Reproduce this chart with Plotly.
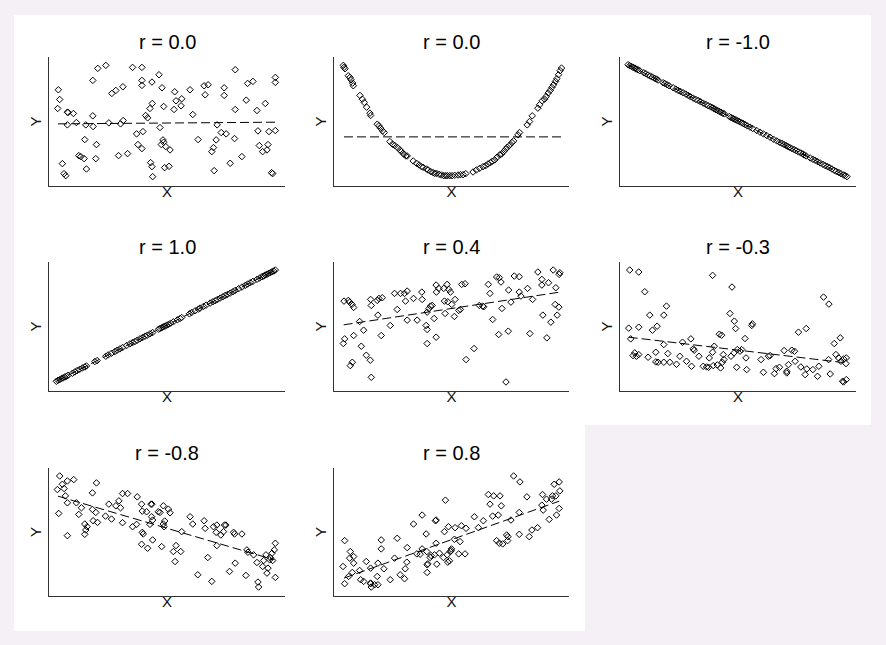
import plotly.graph_objects as go

# Panel titles (Pearson r of each sample)
titles = ["r = 0.0", "r = 0.0", "r = -1.0", "r = 1.0", "r = 0.4", "r = -0.3", "r = -0.8", "r = 0.8"]

# r = 0.0, no relation
x_none = [28, 32, 26, 55, 57, 73, 55, 40, 45, 50, 82, 110, 107, 89, 95, 105, 112, 131, 146, 170,
          131, 132, 142, 140, 179, 188, 200, 221, 208, 235, 222, 214, 250, 278, 278, 278, 308, 329, 338, 262,
          281, 266, 278, 289, 295, 302, 309, 304, 308, 310, 332, 343, 341, 343, 336, 349, 362, 346, 359, 376,
          380, 374, 397, 395, 422, 430, 446, 464, 476, 467, 487, 494, 492, 500, 503, 515, 530, 524, 524, 542,
          557, 557, 555, 577, 590, 594, 610, 625, 622, 629, 639, 647, 652, 655, 658, 677, 677, 677, 666, 669]
y_none = [288, 259, 232, 221, 220, 217, 183, 67, 37, 31, 190, 183, 139, 91, 88, 82, 51, 316, 352, 361,
          210, 178, 124, 82, 189, 277, 286, 297, 91, 97, 196, 186, 355, 355, 316, 301, 311, 333, 294, 156,
          163, 124, 112, 211, 204, 232, 247, 70, 58, 28, 175, 238, 138, 131, 124, 118, 108, 55, 59, 282,
          255, 229, 261, 240, 288, 214, 139, 300, 303, 273, 103, 46, 115, 138, 183, 160, 156, 294, 271, 68,
          348, 229, 142, 88, 257, 307, 313, 165, 226, 121, 103, 247, 108, 124, 163, 166, 325, 310, 40, 37]

# r = 0.0, parabola
x_parab = [28, 30, 33, 43, 48, 51, 56, 58, 78, 85, 91, 98, 108, 110, 130, 135, 140, 146, 151, 168,
           176, 183, 191, 198, 203, 210, 216, 220, 238, 248, 256, 263, 268, 278, 283, 291, 298, 303, 308, 316,
           323, 330, 336, 341, 348, 355, 363, 373, 380, 388, 396, 418, 428, 438, 448, 456, 463, 470, 476, 483,
           490, 498, 504, 510, 516, 521, 528, 535, 540, 553, 558, 581, 588, 596, 613, 618, 626, 633, 638, 644,
           650, 655, 660, 666, 670, 675, 680, 684]
y_parab = [361, 355, 351, 330, 325, 318, 308, 300, 271, 260, 250, 236, 218, 211, 185, 180, 173, 165, 160, 133,
           125, 121, 115, 108, 103, 95, 90, 90, 75, 68, 63, 58, 56, 51, 48, 43, 40, 38, 38, 35,
           33, 31, 31, 31, 31, 31, 32, 33, 34, 34, 37, 42, 48, 53, 58, 61, 66, 70, 74, 78,
           86, 93, 96, 103, 110, 116, 122, 130, 135, 153, 160, 183, 193, 210, 233, 243, 255, 260, 268, 278,
           286, 295, 303, 313, 321, 333, 345, 353]

# r = -1.0
x_neg1 = [24, 29, 34, 39, 44, 49, 54, 59, 71, 77, 84, 91, 97, 104, 109, 114, 129, 134, 141, 147,
          159, 167, 174, 181, 189, 197, 204, 211, 219, 227, 234, 241, 249, 257, 264, 271, 277, 282, 287, 292,
          297, 302, 307, 312, 327, 332, 337, 342, 347, 352, 357, 364, 369, 374, 381, 389, 397, 409, 419, 429,
          439, 449, 459, 469, 477, 484, 491, 497, 501, 507, 514, 521, 527, 534, 541, 547, 551, 557, 569, 577,
          584, 591, 599, 607, 614, 621, 627, 634, 641, 647, 654, 661, 669, 674, 679]
y_neg1 = [363, 360, 358, 355, 353, 350, 348, 345, 339, 336, 332, 329, 326, 322, 320, 317, 309, 307, 303, 300,
          294, 290, 286, 283, 279, 275, 271, 267, 263, 259, 256, 252, 248, 244, 240, 237, 234, 231, 228, 226,
          223, 221, 218, 216, 208, 205, 203, 200, 198, 195, 193, 189, 187, 184, 180, 176, 172, 166, 161, 156,
          151, 146, 140, 135, 131, 128, 124, 121, 119, 116, 112, 109, 106, 102, 99, 96, 93, 90, 84, 80,
          77, 73, 69, 65, 61, 58, 55, 51, 47, 44, 41, 37, 33, 31, 28]

# r = 1.0
x_pos1 = [22, 27, 32, 37, 42, 47, 52, 57, 70, 77, 84, 92, 100, 107, 112, 137, 144, 170, 177, 187,
          197, 204, 212, 220, 232, 242, 250, 257, 264, 272, 280, 287, 294, 302, 310, 328, 332, 337, 342, 347,
          352, 357, 364, 372, 384, 392, 397, 420, 427, 437, 447, 452, 462, 470, 482, 490, 497, 504, 512, 520,
          527, 534, 542, 550, 557, 567, 577, 587, 594, 602, 610, 622, 630, 637, 642, 647, 652, 657, 662, 667,
          672, 677]
y_pos1 = [29, 32, 34, 37, 39, 42, 44, 47, 53, 57, 61, 65, 69, 72, 75, 88, 91, 104, 108, 113,
          118, 122, 126, 130, 136, 141, 145, 148, 152, 156, 160, 164, 167, 171, 175, 185, 187, 189, 192, 194,
          197, 199, 203, 207, 213, 217, 220, 231, 235, 240, 245, 248, 253, 257, 263, 267, 270, 274, 278, 282,
          286, 289, 293, 297, 301, 306, 311, 316, 320, 324, 328, 334, 338, 342, 344, 347, 349, 352, 354, 357,
          359, 362]

# r = 0.4
x_p04 = [30, 43, 47, 54, 59, 32, 28, 59, 49, 55, 77, 82, 89, 97, 109, 112, 112, 110, 130, 135,
         145, 132, 142, 169, 182, 190, 200, 212, 215, 220, 220, 239, 250, 264, 265, 277, 280, 280, 280, 285,
         290, 295, 301, 307, 308, 307, 315, 332, 330, 334, 340, 342, 345, 350, 354, 364, 362, 375, 380, 384,
         394, 397, 421, 437, 447, 450, 464, 469, 477, 489, 495, 497, 502, 505, 517, 524, 525, 532, 542, 557,
         557, 562, 582, 589, 597, 613, 625, 628, 625, 640, 645, 652, 659, 665, 667, 671, 676, 677, 679]
y_p04 = [269, 271, 266, 259, 250, 156, 142, 166, 76, 86, 208, 134, 182, 107, 92, 41, 256, 274, 271, 277,
         279, 227, 166, 196, 292, 244, 292, 292, 269, 299, 212, 277, 212, 296, 274, 196, 184, 142, 236, 246,
         254, 256, 217, 317, 296, 161, 307, 269, 307, 232, 319, 267, 304, 296, 259, 274, 223, 241, 244, 319,
         321, 94, 127, 256, 254, 252, 319, 292, 214, 341, 169, 339, 326, 247, 27, 179, 302, 266, 344, 342,
         296, 284, 307, 172, 274, 356, 334, 227, 317, 159, 324, 206, 362, 259, 309, 227, 251, 349, 354]

# r = -0.3
x_m03 = [29, 56, 26, 32, 56, 74, 39, 44, 49, 56, 84, 89, 97, 107, 111, 107, 114, 131, 131, 139,
         143, 131, 149, 169, 179, 187, 199, 212, 219, 222, 214, 236, 249, 259, 267, 265, 277, 277, 279, 282,
         291, 297, 304, 301, 306, 309, 311, 329, 335, 342, 346, 332, 341, 349, 351, 359, 364, 374, 377, 379,
         394, 396, 422, 429, 444, 449, 462, 467, 477, 491, 499, 499, 504, 514, 522, 524, 534, 541, 554, 557,
         559, 577, 591, 595, 609, 625, 624, 629, 641, 646, 654, 659, 661, 669, 666, 669, 677, 676, 677]
y_m03 = [362, 356, 188, 156, 191, 297, 106, 114, 104, 109, 101, 227, 182, 87, 194, 116, 86, 227, 139, 254,
         112, 86, 86, 80, 104, 146, 89, 156, 126, 122, 74, 104, 74, 72, 99, 71, 346, 116, 76, 134,
         78, 170, 167, 69, 86, 109, 94, 232, 311, 209, 187, 104, 114, 71, 124, 119, 124, 157, 99, 64,
         196, 201, 94, 56, 104, 106, 52, 67, 71, 121, 54, 59, 79, 122, 119, 89, 176, 72, 49, 187,
         66, 64, 44, 74, 281, 260, 94, 51, 142, 109, 99, 159, 89, 96, 29, 27, 34, 82, 99]

# r = -0.8
x_m08 = [32, 40, 45, 55, 74, 25, 49, 55, 29, 55, 82, 97, 89, 107, 114, 107, 110, 130, 142, 130,
         140, 132, 145, 169, 179, 187, 200, 209, 214, 220, 235, 220, 250, 264, 262, 277, 279, 279, 282, 292,
         277, 295, 305, 308, 307, 310, 302, 310, 327, 332, 337, 342, 346, 342, 344, 357, 362, 380, 372, 377,
         394, 397, 422, 430, 445, 464, 467, 475, 487, 492, 500, 502, 502, 514, 522, 525, 529, 540, 552, 557,
         555, 577, 589, 592, 595, 612, 622, 625, 627, 639, 642, 649, 652, 655, 660, 662, 667, 669, 674, 677,
         677]
y_m08 = [362, 337, 324, 347, 351, 321, 302, 281, 249, 182, 281, 266, 246, 217, 209, 186, 199, 311, 341, 261,
         252, 227, 222, 241, 277, 232, 272, 287, 266, 309, 309, 221, 209, 299, 216, 277, 256, 192, 187, 254,
         156, 144, 277, 277, 239, 229, 216, 169, 254, 252, 149, 272, 226, 217, 209, 262, 251, 152, 134, 104,
         134, 194, 239, 217, 64, 227, 204, 116, 44, 209, 192, 214, 152, 184, 194, 214, 214, 74, 192, 99,
         187, 187, 62, 139, 132, 124, 101, 42, 27, 89, 107, 124, 69, 84, 109, 116, 129, 107, 139, 159,
         56]

# r = 0.8
x_p08 = [32, 27, 32, 44, 49, 47, 55, 59, 59, 77, 80, 89, 97, 110, 110, 112, 110, 122, 130, 132,
         132, 142, 142, 150, 169, 182, 190, 199, 212, 214, 219, 220, 239, 249, 259, 265, 265, 277, 279, 280,
         282, 280, 289, 292, 302, 305, 307, 309, 307, 317, 329, 332, 335, 340, 342, 344, 347, 350, 353, 352,
         362, 364, 375, 379, 383, 394, 397, 422, 434, 449, 464, 469, 477, 480, 494, 499, 503, 489, 497, 507,
         519, 522, 523, 532, 540, 557, 559, 557, 580, 587, 595, 612, 625, 627, 629, 639, 647, 654, 657, 667,
         662, 669, 677, 677, 679]
y_p08 = [167, 89, 37, 59, 134, 114, 71, 99, 119, 77, 49, 44, 104, 84, 37, 27, 39, 34, 59, 34,
         99, 169, 142, 82, 49, 114, 174, 64, 52, 82, 102, 146, 217, 127, 126, 244, 142, 187, 134, 94,
         97, 71, 116, 122, 124, 227, 229, 96, 159, 129, 116, 194, 289, 124, 102, 209, 106, 134, 142, 137,
         171, 206, 127, 164, 212, 127, 204, 239, 206, 227, 306, 277, 241, 302, 244, 302, 272, 167, 159, 157,
         184, 167, 179, 229, 362, 252, 344, 186, 299, 179, 199, 206, 274, 306, 259, 292, 231, 292, 302, 302,
         337, 244, 264, 344, 317]

# least-squares lines as drawn in each panel: (x start, x end), (y start, y end)
trend_x = [[27, 677], [30, 683], [24, 679], [22, 677], [29, 680], [26, 677], [27, 674], [30, 677]]
trend_y = [[186, 191], [147, 147], [363, 28], [29, 362], [198, 296], [161, 84], [301, 109], [54, 286]]

panels = [(x_none, y_none), (x_parab, y_parab), (x_neg1, y_neg1), (x_pos1, y_pos1),
          (x_p04, y_p04), (x_m03, y_m03), (x_m08, y_m08), (x_p08, y_p08)]

col_dom = [(0.0553, 0.3217), (0.377, 0.642), (0.6998, 0.9661)]
row_dom = [(0.7116, 0.9116), (0.3938, 0.5938), (0.076, 0.2744)]

fig = go.Figure()
annotations = []
axis_style = dict(showline=True, linecolor="#333333", linewidth=1, showgrid=False,
                  zeroline=False, showticklabels=False, ticks="", mirror=False)

for i, (xs, ys) in enumerate(panels):
    n = "" if i == 0 else str(i + 1)
    r, c = divmod(i, 3)
    fig.add_trace(go.Scatter(x=xs, y=ys, mode="markers", xaxis="x" + n, yaxis="y" + n,
                             marker=dict(symbol="diamond-open", size=5, color="black",
                                         line=dict(width=1, color="black")),
                             showlegend=False, hoverinfo="skip"))
    fig.add_trace(go.Scatter(x=trend_x[i], y=trend_y[i], mode="lines", xaxis="x" + n, yaxis="y" + n,
                             line=dict(color="black", width=1, dash="9px,4px"),
                             showlegend=False, hoverinfo="skip"))
    fig.layout["xaxis" + n] = dict(axis_style, domain=col_dom[c], range=[0, 706], anchor="y" + n,
                                   title=dict(text="X", standoff=0, font=dict(size=15, color="#111111")))
    fig.layout["yaxis" + n] = dict(axis_style, domain=row_dom[r], range=[0, 386], anchor="x" + n,
                                   title=dict(text="Y", standoff=2, font=dict(size=15, color="#111111")))
    annotations.append(dict(text=titles[i], x=sum(col_dom[c]) / 2, y=row_dom[r][1], xref="paper",
                            yref="paper", xanchor="center", yanchor="bottom", yshift=2,
                            showarrow=False, font=dict(size=20, color="black")))

fig.update_layout(
    width=886, height=645,
    margin=dict(l=0, r=0, t=0, b=0),
    paper_bgcolor="#f5f0f5",
    plot_bgcolor="white",
    font=dict(family="Liberation Sans, Arial, sans-serif", color="black"),
    annotations=annotations,
    shapes=[
        dict(type="rect", xref="paper", yref="paper", x0=0.0158, x1=0.983, y0=0.341, y1=0.9767,
             fillcolor="white", line=dict(width=0), layer="below"),
        dict(type="rect", xref="paper", yref="paper", x0=0.0158, x1=0.6603, y0=0.0217, y1=0.342,
             fillcolor="white", line=dict(width=0), layer="below"),
    ],
)

fig.write_html("out.html", config={"displayModeBar": False},
               post_script="document.body.style.margin='0';")
